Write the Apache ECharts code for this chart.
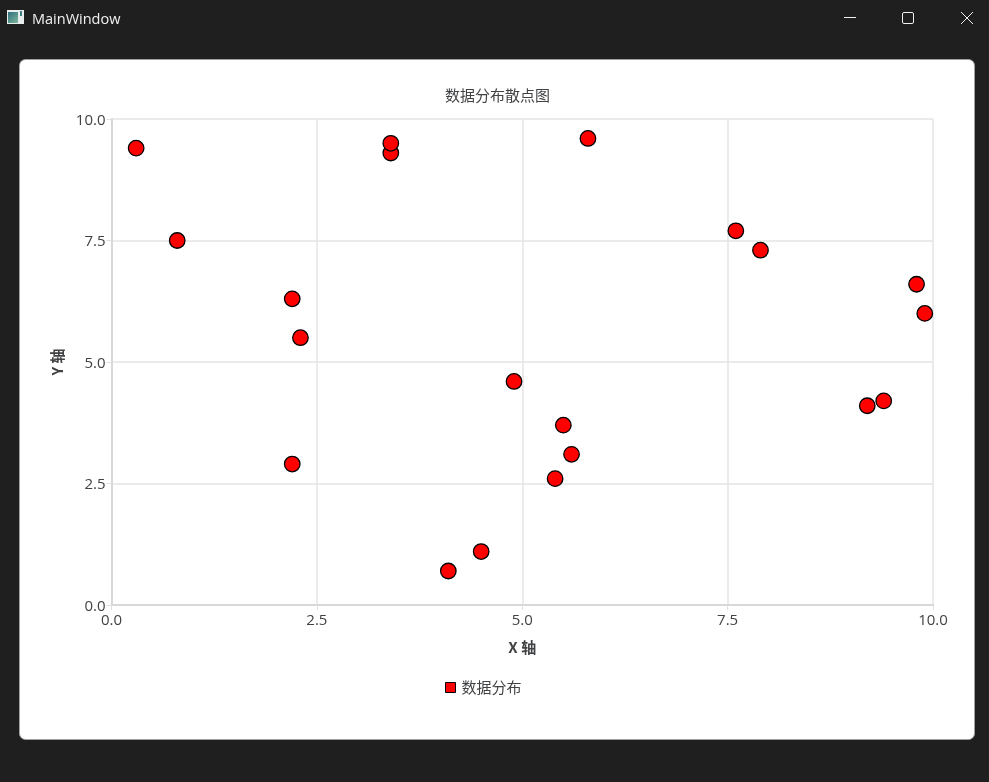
<!DOCTYPE html>
<html><head><meta charset="utf-8">
<style>html,body{margin:0;padding:0;background:#1f1f1f;overflow:hidden}#c{width:989px;height:782px}</style>
<script src="https://cdn.jsdelivr.net/npm/echarts@6/dist/echarts.min.js"></script>
</head><body><div id="c"></div>
<script>
const chartTitle = '数据分布散点图';
const seriesName = '数据分布';
const xName = 'X 轴';
const yName = 'Y 轴';
const xValues = [0.3,0.8,2.2,2.3,2.2,3.4,3.4,5.8,4.9,5.5,5.6,5.4,4.1,4.5,7.6,7.9,9.8,9.9,9.2,9.4];
const yValues = [9.4,7.5,6.3,5.5,2.9,9.3,9.5,9.6,4.6,3.7,3.1,2.6,0.7,1.1,7.7,7.3,6.6,6.0,4.1,4.2];
const font = '"Noto Sans CJK SC","Open Sans",sans-serif';
const latin = '"Open Sans","Noto Sans CJK SC",sans-serif';
const axisBase = {
  type:'value', min:0, max:10, interval:2.5, nameLocation:'middle',
  nameTextStyle:{fontFamily:font,fontSize:15,fontWeight:'bold',color:'#404244'},
  axisLine:{show:true,lineStyle:{color:'#d8d8d8',width:2}},
  axisTick:{show:true,length:5,lineStyle:{color:'#e0e0e0',width:1}},
  axisLabel:{formatter:v=>v.toFixed(1),fontFamily:latin,fontSize:15,color:'#404244',hideOverlap:false,showMinLabel:true,showMaxLabel:true},
  splitLine:{show:true,lineStyle:{color:'#e4e4e4',width:1.5}}
};
const chrome = [
  {type:'rect',z:-10,silent:true,shape:{x:19.5,y:59.5,width:955,height:680,r:6},style:{fill:'#ffffff',stroke:'#a0a0a0',lineWidth:1}},
  {type:'rect',z:-9,silent:true,shape:{x:7,y:10,width:17,height:14},style:{fill:'#e8eeee'}},
  {type:'rect',z:-8,silent:true,shape:{x:8,y:12,width:10,height:11},style:{fill:new echarts.graphic.LinearGradient(0,0,1,1,[{offset:0,color:'#2f6f7f'},{offset:1,color:'#7fb79a'}])}},
  {type:'rect',z:-8,silent:true,shape:{x:20,y:11,width:2,height:5},style:{fill:'#3f7f7f'}},
  {type:'text',z:-8,silent:true,x:32,y:19.5,style:{text:'MainWindow',fontFamily:'"Open Sans",sans-serif',fontSize:14.5,fill:'#f2f2f2',verticalAlign:'middle'}},
  {type:'line',z:-8,silent:true,shape:{x1:844,y1:17.5,x2:856,y2:17.5},style:{stroke:'#f0f0f0',lineWidth:1}},
  {type:'rect',z:-8,silent:true,shape:{x:902.5,y:12.5,width:11,height:11,r:1.5},style:{fill:'none',stroke:'#f0f0f0',lineWidth:1}},
  {type:'line',z:-8,silent:true,shape:{x1:961,y1:12,x2:973,y2:24},style:{stroke:'#f0f0f0',lineWidth:1}},
  {type:'line',z:-8,silent:true,shape:{x1:973,y1:12,x2:961,y2:24},style:{stroke:'#f0f0f0',lineWidth:1}}
];
const chart = echarts.init(document.getElementById('c'),null,{renderer:'canvas',width:989,height:782});
chart.setOption({
  animation:false,
  backgroundColor:'#1f1f1f',
  graphic:chrome,
  title:{text:chartTitle,left:440,top:83,textStyle:{fontFamily:font,fontSize:15,fontWeight:'normal',color:'#404244'}},
  grid:{left:111.5,right:56,top:119,bottom:177},
  xAxis:Object.assign({},axisBase,{name:xName,nameGap:35,axisLabel:Object.assign({},axisBase.axisLabel,{margin:8})}),
  yAxis:Object.assign({},axisBase,{name:yName,nameGap:47,axisLabel:Object.assign({},axisBase.axisLabel,{margin:6,
    formatter:v=>'{n|'+v.toFixed(1)+'}',
    rich:{n:{fontFamily:latin,fontSize:15,color:'#404244',padding:[3,0,0,0]}}})}),
  legend:{left:440,top:675,icon:'rect',itemWidth:10,itemHeight:10,itemGap:6,
    itemStyle:{borderWidth:1},
    textStyle:{fontFamily:font,fontSize:15,color:'#404244',padding:[0,0,0,1]},
    data:[seriesName]},
  series:[{type:'scatter',name:seriesName,symbol:'circle',symbolSize:15.5,
    itemStyle:{color:'#ff0000',borderColor:'#000000',borderWidth:1.3,opacity:1},
    data:xValues.map((x,i)=>[x,yValues[i]])}]
});
</script></body></html>
